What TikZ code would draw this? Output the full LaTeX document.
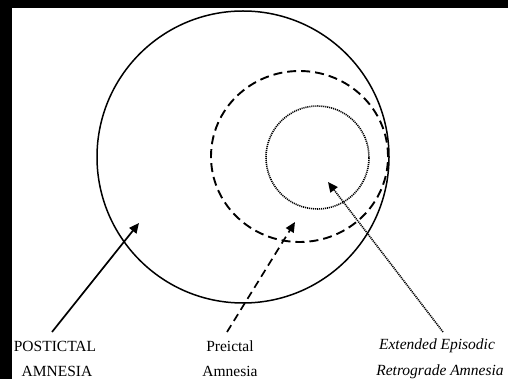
\documentclass[tikz,border=0pt]{standalone}
\usepackage{fontspec}
\setmainfont{Liberation Serif}
\usetikzlibrary{arrows.meta,shapes.geometric}
\begin{document}
\begin{tikzpicture}[x=1pt,y=-1pt,
  lbl/.style={inner sep=0pt,font=\fontsize{15.5}{18}\selectfont},
  tip/.style={-{Triangle[length=10pt,width=9pt]}},
  ring/.style={draw,line width=1.5pt,inner sep=0pt}]
\fill[black] (0,0) rectangle (508,379);
\fill[white] (12,8) rectangle (508,379);
\useasboundingbox (0,0) rectangle (508,379);
% circles
\node[ring,circle,minimum size=292pt] (outer) at (243,157) {};
\node[ring,ellipse,dash pattern=on 9pt off 5pt,line width=1.9pt,minimum width=177pt,minimum height=171pt] (pre) at (299.5,156.5) {};
\node[ring,circle,line width=1.6pt,dash pattern=on 1.1pt off 0.9pt,minimum size=103pt] (ext) at (317.5,157.5) {};
% labels
\node[lbl] (post1) at (55,346) {POSTICTAL};
\node[lbl] (post2) at (57,371.5) {AMNESIA};
\node[lbl] (pre1) at (230,346) {Preictal};
\node[lbl] (pre2) at (230,371.5) {Amnesia};
\node[lbl] (ext1) at (437,346) {\itshape Extended Episodic};
\node[lbl] (ext2) at (440,371.5) {\itshape Retrograde Amnesia};
% arrow ends
\coordinate (s1) at (52,332);
\coordinate (t1) at (139,223);
\coordinate (s2) at (227,332);
\coordinate (t2) at (295,222);
\coordinate (s3) at (443,332);
\coordinate (t3) at (328,182);
\draw[tip,line width=1.7pt] (s1) -- (t1);
\draw[tip,line width=1.7pt,dash pattern=on 8pt off 5pt] (s2) -- (t2);
\draw[tip,line width=1.6pt,dash pattern=on 1.1pt off 0.9pt] (s3) -- (t3);
\end{tikzpicture}
\end{document}
